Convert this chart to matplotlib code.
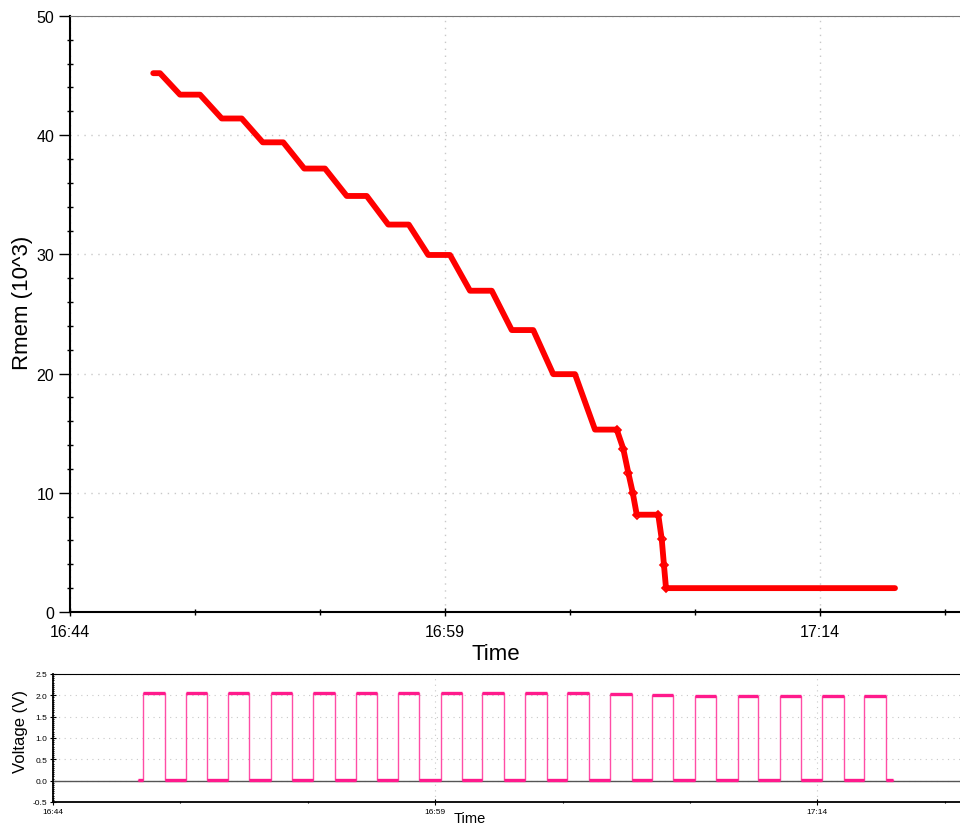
import numpy as np
import matplotlib
matplotlib.use("Agg")
import matplotlib.pyplot as plt
from matplotlib.ticker import MultipleLocator, FuncFormatter

plt.rcParams['font.family'] = ['Liberation Sans', 'DejaVu Sans']

# Rmem (10^3) vs time, minutes after 16:44 (breakpoints)
t_r = [3.33, 3.60, 4.40, 5.20, 6.07, 6.87, 7.71, 8.53, 9.37, 10.20, 11.07, 11.87,
       12.73, 13.55, 14.33, 15.20, 16.00, 16.87, 17.67, 18.53, 19.33, 20.20, 21.00,
       21.87, 22.13, 22.33, 22.51, 22.67, 23.53, 23.67, 23.76, 23.84, 33.00]
rmem = [45.2, 45.2, 43.4, 43.4, 41.4, 41.4, 39.4, 39.4, 37.2, 37.2, 34.9, 34.9,
        32.5, 32.5, 29.95, 29.95, 26.95, 26.95, 23.65, 23.65, 19.95, 19.95, 15.3,
        15.3, 13.7, 11.7, 10.0, 8.16, 8.16, 6.1, 3.9, 2.0, 2.0]

# voltage pulses
rise = [3.55, 5.21, 6.88, 8.55, 10.22, 11.88, 13.56, 15.22, 16.84, 18.53, 20.19,
        21.87, 23.53, 25.21, 26.87, 28.52, 30.20, 31.85]
fall = [4.40, 6.06, 7.71, 9.40, 11.06, 12.72, 14.38, 16.05, 17.71, 19.38, 21.04,
        22.72, 24.35, 26.03, 27.69, 29.37, 31.03, 32.70]
v_high = [2.05, 2.05, 2.05, 2.05, 2.05, 2.05, 2.05, 2.05, 2.05, 2.05, 2.05,
          2.04, 2.01, 1.99, 1.99, 1.99, 1.99, 1.99]
v_low = 0.02
t_start, t_end = 3.34, 32.98

xmax = 35.6
t0 = 16 * 60 + 44


def hhmm(x, pos=None):
    m = int(round(t0 + x))
    return "%d:%02d" % (m // 60, m % 60)


fig = plt.figure(figsize=(9.6, 8.28), dpi=100)

# ---- top: Rmem
ax = fig.add_axes([0.0729, 0.2597, 0.9271, 0.7198])
ax.plot(t_r, rmem, color='red', lw=4.2, solid_joinstyle='round', solid_capstyle='round')
ax.plot(t_r[23:32], rmem[23:32], ls='', marker='D', ms=4, mfc='none', mec='red', mew=1.2)
ax.set_xlim(0, xmax)
ax.set_ylim(0, 50)
ax.xaxis.set_major_locator(MultipleLocator(15))
ax.xaxis.set_minor_locator(MultipleLocator(5))
ax.xaxis.set_major_formatter(FuncFormatter(hhmm))
ax.yaxis.set_major_locator(MultipleLocator(10))
ax.yaxis.set_minor_locator(MultipleLocator(2))
ax.tick_params(which='both', direction='inout', labelsize=11.5, length=6, width=1)
ax.tick_params(which='minor', length=4)
ax.tick_params(axis='y', which='major', direction='out', length=8)
ax.tick_params(axis='x', pad=6)
ax.grid(True, which='major', ls=(0, (1, 4)), color='#c8c8c8', lw=1)
ax.spines['right'].set_visible(False)
ax.spines['top'].set_color('#777777')
ax.spines['left'].set_linewidth(1.5)
ax.spines['bottom'].set_linewidth(1.5)
ax.set_ylabel('Rmem (10^3)', fontsize=16)
ax.yaxis.set_label_coords(-0.042, 0.52)
ax.set_xlabel('Time', fontsize=16)
ax.xaxis.set_label_coords(0.479, -0.052)

# ---- bottom: voltage
bx = fig.add_axes([0.0552, 0.0302, 0.9448, 0.1546])
tv = [t_start]
vv = [v_low]
for r, f, h in zip(rise, fall, v_high):
    tv += [r, r, f, f]
    vv += [v_low, h, h, v_low]
tv.append(t_end)
vv.append(v_low)
bx.axhline(0, color='#555555', lw=1)
bx.plot(tv, vv, color='#ff4da6', lw=1.0)
bx.hlines(v_high, rise, fall, color='#ff1a8c', lw=2.4)
lows_a = [t_start] + fall
lows_b = rise + [t_end]
bx.hlines([v_low] * len(lows_a), lows_a, lows_b, color='#ff1a8c', lw=2.4)
bx.set_xlim(0, xmax)
bx.set_ylim(-0.5, 2.5)
bx.xaxis.set_major_locator(MultipleLocator(15))
bx.xaxis.set_minor_locator(MultipleLocator(5))
bx.xaxis.set_major_formatter(FuncFormatter(hhmm))
bx.yaxis.set_major_locator(MultipleLocator(0.5))
bx.yaxis.set_minor_locator(MultipleLocator(0.05))
bx.yaxis.set_major_formatter(FuncFormatter(lambda v, p: "%.1f" % v))
bx.tick_params(which='both', direction='inout', labelsize=6, length=4, width=0.8, pad=2)
bx.tick_params(which='minor', length=2)
bx.grid(True, which='major', ls=(0, (1, 4)), color='#c8c8c8', lw=0.8)
bx.spines['right'].set_visible(False)
bx.spines['left'].set_linewidth(1.3)
bx.spines['bottom'].set_linewidth(1.3)
bx.set_ylabel('Voltage (V)', fontsize=12)
bx.yaxis.set_label_coords(-0.028, 0.555)
bx.set_xlabel('Time', fontsize=10.5)
bx.xaxis.set_label_coords(0.46, -0.07)

fig.savefig('out.png', dpi=100)
